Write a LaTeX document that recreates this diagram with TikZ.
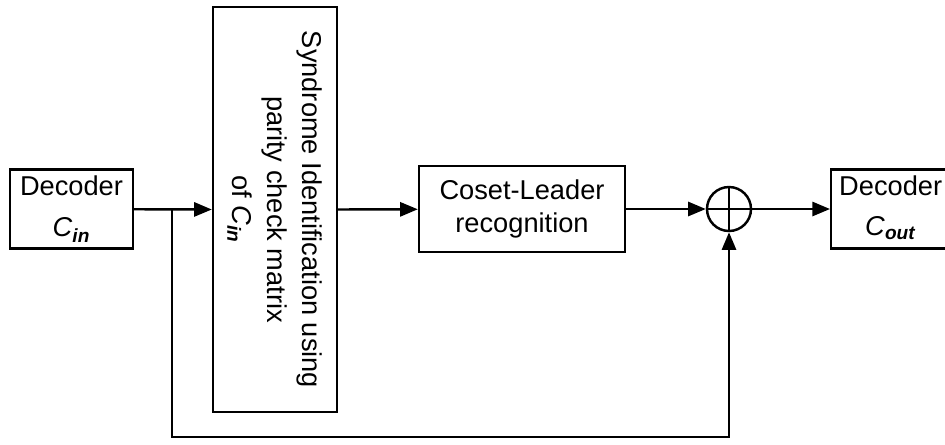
\documentclass[tikz,border=0pt]{standalone}
\usepackage{fontspec}
\setmainfont{Liberation Sans}
\usetikzlibrary{arrows.meta}
\tikzstyle{blk}=[rectangle,draw=black,line width=1.4pt,inner sep=2pt,
  font=\fontsize{15.5}{18.5}\selectfont,align=center]
\tikzstyle{sum}=[circle,draw=black,line width=1.4pt,inner sep=0pt,minimum size=0.88cm]
\tikzstyle{arr}=[line width=1.4pt,-{Triangle[length=10pt,width=8pt]}]
\tikzstyle{ln}=[line width=1.4pt]
\newcommand{\cname}[1]{\textit{C}\textsubscript{\textbf{\textit{#1}}}}

\begin{document}
\begin{tikzpicture}[x=0.02cm,y=-0.02cm]
        \useasboundingbox (0,0) rectangle (945,444);
        \clip (0,0) rectangle (945,444);
        \node[style=blk,minimum width=2.46cm,minimum height=1.58cm] (1) at (71.5,209) {Decoder\\[5pt] \cname{in}};
        \node[style=blk,minimum width=8.1cm,minimum height=2.48cm,rotate=-90,
          font=\fontsize{15.5}{20}\selectfont] (2) at (275,209.5) {Syndrome Identification using\\ parity check matrix\\ of \cname{in}};
        \node[style=blk,minimum width=4.12cm,minimum height=1.72cm] (3) at (522,209) {Coset-Leader\\ recognition};
        \node[style=sum] (4) at (729,209) {};
        \node[style=blk,anchor=west,text width=2.6cm,align=left,minimum height=1.5cm,inner xsep=0.16cm] (7) at (830,209)
          {\begin{tabular}{@{}c@{}}Decoder\\[4pt] \cname{out}\end{tabular}};
        \coordinate (5) at (172,209);
        \coordinate (6) at (172,437);
        \draw[ln] (4.north) to (4.south);
        \draw[ln] (4.west) to (4.east);
        \draw[arr] (1) to (2.south);
        \draw[arr] (2.north) to (3);
        \draw[arr] (3) to (4);
        \draw[arr] (4) to (7);
        \draw[arr] (5) to (6) -| (4.south);
\end{tikzpicture}
\end{document}
